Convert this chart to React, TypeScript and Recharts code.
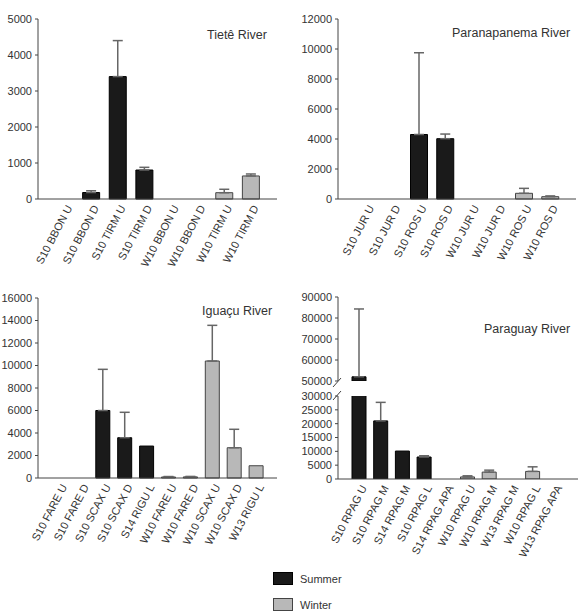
import React from 'react';
import { BarChart, Bar, XAxis, YAxis, ErrorBar, Cell } from 'recharts';

const FONT = '"Liberation Sans", Arial, sans-serif';

// Tietê River
const tieteCats = ['S10 BBON U', 'S10 BBON D', 'S10 TIRM U', 'S10 TIRM D', 'W10 BBON U', 'W10 BBON D', 'W10 TIRM U', 'W10 TIRM D'];
const tieteMean = [0, 180, 3400, 805, 0, 0, 175, 640];
const tieteErr = [0, 50, 1000, 75, 0, 0, 95, 55];
const tieteTicks = [0, 1000, 2000, 3000, 4000, 5000];

// Paranapanema River
const paranaCats = ['S10 JUR U', 'S10 JUR D', 'S10 ROS U', 'S10 ROS D', 'W10 JUR U', 'W10 JUR D', 'W10 ROS U', 'W10 ROS D'];
const paranaMean = [0, 0, 4300, 4020, 0, 0, 380, 155];
const paranaErr = [0, 0, 5450, 310, 0, 0, 330, 50];
const paranaTicks = [0, 2000, 4000, 6000, 8000, 10000, 12000];

// Iguaçu River
const iguacuCats = ['S10 FARE U', 'S10 FARE D', 'S10 SCAX U', 'S10 SCAX D', 'S14 RIGU L', 'W10 FARE U', 'W10 FARE D', 'W10 SCAX U', 'W10 SCAX D', 'W13 RIGU L'];
const iguacuMean = [0, 0, 6000, 3580, 2840, 90, 100, 10400, 2690, 1090];
const iguacuErr = [0, 0, 3660, 2260, 0, 40, 40, 3170, 1640, 0];
const iguacuTicks = [0, 2000, 4000, 6000, 8000, 10000, 12000, 14000, 16000];

// Paraguay River
const paraguayCats = ['S10 RPAG U', 'S10 RPAG M', 'S14 RPAG M', 'S10 RPAG L', 'S14 RPAG APA', 'W10 RPAG U', 'W10 RPAG M', 'W13 RPAG M', 'W10 RPAG L', 'W13 RPAG APA'];
const paraguayMean = [52000, 21000, 10100, 7950, 0, 750, 2500, 0, 2750, 0];
const paraguayErr = [32300, 6700, 0, 450, 0, 400, 700, 0, 1650, 0];
const paraguayTicksLow = [0, 5000, 10000, 15000, 20000, 25000, 30000];
const paraguayTicksHigh = [50000, 60000, 70000, 80000, 90000];
const PARAGUAY_BREAK_LOW = 30000;
const PARAGUAY_BREAK_HIGH = 50000;

const legendItems = [
  { name: 'Summer', fill: '#1a1a1a', stroke: '#000' },
  { name: 'Winter', fill: '#b8b8b8', stroke: '#444' },
];

type Row = { cat: string; mean: number | null; err: number[] | null };

const build = (cats: string[], mean: number[], err: number[]): Row[] =>
  cats.map((c, i) => ({
    cat: c,
    mean: mean[i] > 0 ? mean[i] : null,
    err: err[i] > 0 ? [0, err[i]] : null,
  }));

const colorFor = (cat: string) => (cat.startsWith('S') ? legendItems[0] : legendItems[1]);

const AngledTick = (props: any) => {
  const { x, y, payload } = props;
  return (
    <g transform={`translate(${x + 5},${y + 7})`}>
      <text transform="rotate(-62)" textAnchor="end" dy="0.35em" fontSize={11} fill="#333" fontFamily={FONT}>
        {payload.value}
      </text>
    </g>
  );
};

type PanelProps = {
  data: Row[];
  left: number;
  top: number;
  width: number;
  height: number;
  margin: { top: number; right: number; left: number; bottom: number };
  yWidth: number;
  xHeight: number;
  padL: number;
  padR: number;
  barSize: number;
  domain: [number, number];
  ticks: number[];
  hideX?: boolean;
  overflow?: boolean;
};

const Panel = (p: PanelProps) => (
  <div style={{ position: 'absolute', left: p.left, top: p.top, width: p.width, height: p.height }}>
    <BarChart width={p.width} height={p.height} data={p.data} margin={p.margin} barCategoryGap={0}>
      <XAxis
        dataKey="cat"
        hide={p.hideX}
        height={p.xHeight}
        interval={0}
        tickLine={false}
        tickSize={0}
        tickMargin={0}
        axisLine={{ stroke: '#444' }}
        padding={{ left: p.padL, right: p.padR }}
        tick={<AngledTick />}
      />
      <YAxis
        width={p.yWidth}
        domain={p.domain}
        ticks={p.ticks}
        allowDataOverflow={p.overflow}
        interval={0}
        tickSize={3}
        tickMargin={3}
        axisLine={{ stroke: '#444' }}
        tickLine={{ stroke: '#444' }}
        tick={{ fontSize: 11, fill: '#333', fontFamily: FONT }}
      />
      <Bar dataKey="mean" barSize={p.barSize} isAnimationActive={false}>
        {p.data.map((d, i) => {
          const c = colorFor(d.cat);
          return <Cell key={i} fill={c.fill} stroke={c.stroke} strokeWidth={1} />;
        })}
        <ErrorBar dataKey="err" width={5} stroke="#666" strokeWidth={1.5} isAnimationActive={false} />
      </Bar>
    </BarChart>
  </div>
);

const Title = ({ text, left, top }: { text: string; left: number; top: number }) => (
  <div style={{ position: 'absolute', left, top, fontSize: 12.5, color: '#333', fontFamily: FONT, whiteSpace: 'nowrap', lineHeight: '14px' }}>
    {text}
  </div>
);

export default function App() {
  const tiete = build(tieteCats, tieteMean, tieteErr);
  const parana = build(paranaCats, paranaMean, paranaErr);
  const iguacu = build(iguacuCats, iguacuMean, iguacuErr);
  const paraguayAll = build(paraguayCats, paraguayMean, paraguayErr);
  const paraguayHigh: Row[] = paraguayAll.map((d) =>
    d.mean !== null && d.mean > PARAGUAY_BREAK_HIGH ? d : { cat: d.cat, mean: null, err: null }
  );
  const paraguayLow: Row[] = paraguayAll.map((d) =>
    d.mean !== null && d.mean > PARAGUAY_BREAK_LOW ? { cat: d.cat, mean: d.mean, err: null } : d
  );

  return (
    <div style={{ position: 'absolute', left: 0, top: 0, width: 584, height: 611, background: '#fff', overflow: 'hidden' }}>
      <Panel data={tiete} left={0} top={0} width={290} height={280} margin={{ top: 19, right: 13, left: 0, bottom: 0 }}
        yWidth={38} xHeight={81} padL={13} padR={13} barSize={17} domain={[0, 5000]} ticks={tieteTicks} />
      <Title text="Tietê River" left={207} top={28} />

      <Panel data={parana} left={290} top={0} width={294} height={280} margin={{ top: 19, right: 8, left: 0, bottom: 0 }}
        yWidth={48} xHeight={81} padL={15} padR={13} barSize={17} domain={[0, 12000]} ticks={paranaTicks} />
      <Title text="Paranapanema River" left={452} top={26} />

      <Panel data={iguacu} left={0} top={280} width={290} height={300} margin={{ top: 18, right: 13, left: 0, bottom: 0 }}
        yWidth={38} xHeight={102} padL={10} padR={10} barSize={14} domain={[0, 16000]} ticks={iguacuTicks} />
      <Title text="Iguaçu River" left={202} top={304} />

      <Panel data={paraguayHigh} left={290} top={280} width={294} height={110} margin={{ top: 17, right: 6, left: 0, bottom: 9 }}
        yWidth={48} xHeight={0} padL={10} padR={13} barSize={14} domain={[PARAGUAY_BREAK_HIGH, 90000]} ticks={paraguayTicksHigh} hideX overflow />
      <Panel data={paraguayLow} left={290} top={380} width={294} height={200} margin={{ top: 16, right: 6, left: 0, bottom: 0 }}
        yWidth={48} xHeight={101} padL={10} padR={13} barSize={14} domain={[0, PARAGUAY_BREAK_LOW]} ticks={paraguayTicksLow} overflow />
      <svg style={{ position: 'absolute', left: 0, top: 0 }} width={584} height={611} pointerEvents="none">
        <line x1={333} y1={387} x2={341} y2={378} stroke="#444" strokeWidth={1} />
        <line x1={333} y1={400} x2={341} y2={391} stroke="#444" strokeWidth={1} />
      </svg>
      <Title text="Paraguay River" left={484} top={322} />

      {legendItems.map((l, i) => (
        <div key={l.name} style={{ position: 'absolute', left: 273, top: 572 + i * 26, height: 13, display: 'flex', alignItems: 'center' }}>
          <div style={{ width: 18, height: 11, background: l.fill, border: `1px solid ${l.stroke}` }} />
          <span style={{ marginLeft: 7, fontSize: 11, color: '#333', fontFamily: FONT }}>{l.name}</span>
        </div>
      ))}
    </div>
  );
}
